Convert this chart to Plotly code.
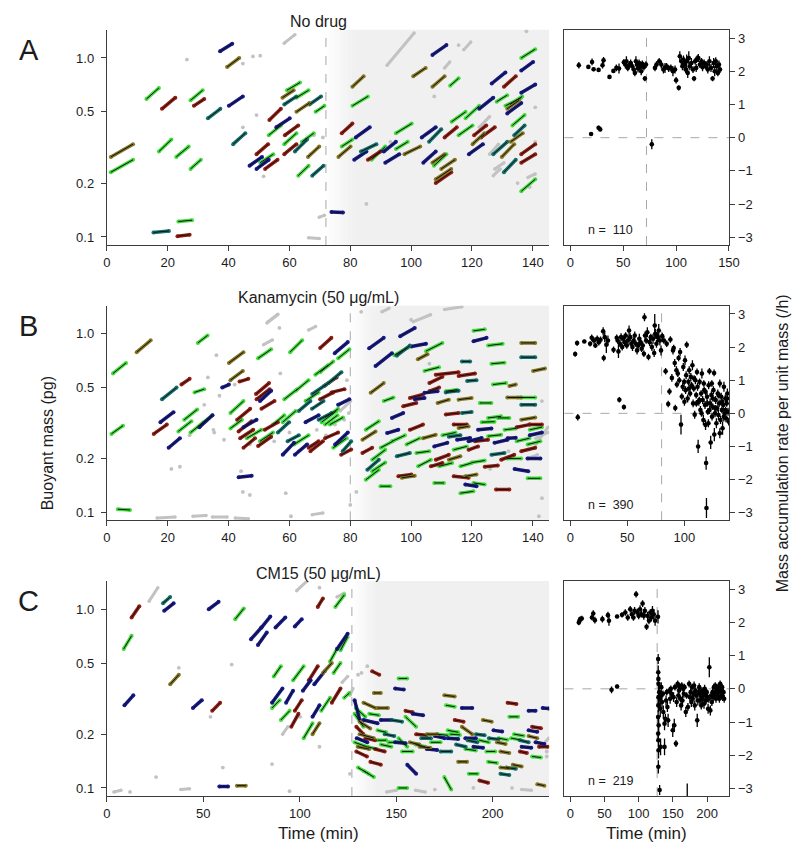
import plotly.graph_objects as go

# ---------------- DATA ----------------
A_DRUG_T = 72
B_DRUG_T = 80
C_DRUG_T = 127
A_N, B_N, C_N = 110, 390, 219

# single-cell tracks: (t_start, t_end, mass_start, mass_end, lineage group)
A_TRACKS = [
    (1.3, 8.6, 0.28, 0.33, 'o'), (1.3, 8.6, 0.23, 0.27, 'g'), (13.0, 17.1, 0.59, 0.68, 'g'),
    (18.1, 22.5, 0.52, 0.60, 'r'), (17.1, 21.2, 0.30, 0.35, 'g'), (22.8, 26.9, 0.28, 0.32, 'g'),
    (27.5, 30.9, 0.24, 0.27, 'g'), (27.5, 31.5, 0.58, 0.66, 'g'), (28.6, 32.0, 0.54, 0.59, 'r'),
    (15.3, 20.4, 0.106, 0.108, 't'), (23.5, 28.0, 0.122, 0.124, 'g'), (23.2, 27.2, 0.101, 0.103, 'r'),
    (33.2, 37.3, 0.46, 0.52, 't'), (37.2, 41.2, 1.09, 1.20, 'b'), (39.5, 43.5, 0.89, 1.0, 'o'),
    (40.1, 44.7, 0.54, 0.61, 'b'), (41.5, 45.5, 0.33, 0.38, 't'), (46.9, 51.0, 0.25, 0.28, 'b'),
    (49.2, 53.2, 0.24, 0.27, 'b'), (49.2, 53.0, 0.29, 0.33, 'r'), (52.0, 56.1, 0.24, 0.27, 'r'),
    (50.4, 54.7, 0.26, 0.29, 'g'), (53.2, 57.2, 0.37, 0.42, 'g'), (53.4, 57.2, 0.45, 0.52, 'r'),
    (55.7, 60.1, 0.41, 0.46, 'b'), (57.7, 61.4, 0.60, 0.66, 'o'), (58.3, 62.3, 0.55, 0.61, 't'),
    (59.2, 63.5, 0.66, 0.73, 'g'), (58.3, 62.3, 0.33, 0.38, 'g'), (58.5, 62.9, 0.37, 0.42, 'r'),
    (58.3, 62.3, 0.29, 0.33, 'r'), (61.8, 65.8, 0.30, 0.35, 't'), (62.9, 66.3, 0.22, 0.25, 'g'),
    (62.3, 66.6, 0.50, 0.56, 'o'), (62.3, 66.3, 0.60, 0.66, 'g'), (66.1, 69.8, 0.28, 0.32, 'o'),
    (66.6, 70.4, 0.55, 0.61, 't'), (67.5, 71.2, 0.22, 0.25, 't'), (68.6, 71.5, 0.50, 0.54, 'g'),
    (64.1, 68.0, 0.34, 0.38, 'g'), (77.2, 80.7, 0.38, 0.43, 'r'), (76.1, 80.1, 0.28, 0.32, 'o'),
    (77.2, 80.7, 0.32, 0.35, 'g'), (80.7, 84.4, 0.69, 0.79, 'o'), (80.7, 85.8, 0.54, 0.61, 'g'),
    (73.8, 77.6, 0.138, 0.137, 'b'), (81.8, 86.4, 0.36, 0.41, 'b'), (81.3, 85.3, 0.27, 0.30, 'b'),
    (83.5, 88.6, 0.30, 0.33, 't'), (85.8, 89.9, 0.27, 0.30, 'r'), (87.0, 91.5, 0.27, 0.32, 'g'),
    (91.0, 95.0, 0.30, 0.34, 'b'), (91.5, 96.1, 0.26, 0.29, 'b'), (95.0, 100.2, 0.38, 0.43, 'g'),
    (95.0, 98.9, 0.31, 0.34, 'g'), (97.8, 103.0, 0.29, 0.32, 'o'), (100.7, 104.8, 0.79, 0.88, 'o'),
    (104.0, 108.1, 0.26, 0.30, 'b'), (103.5, 108.1, 0.36, 0.41, 'b'), (105.9, 109.9, 0.34, 0.40, 't'),
    (107.0, 111.6, 1.04, 1.18, 'b'), (107.0, 111.0, 0.69, 0.79, 'o'), (107.0, 111.0, 0.26, 0.29, 'o'),
    (107.5, 111.6, 0.25, 0.29, 'g'), (112.8, 115.6, 0.70, 0.77, 'g'), (111.0, 115.0, 0.36, 0.41, 'r'),
    (108.1, 113.2, 0.20, 0.23, 'r'), (108.1, 113.2, 0.21, 0.24, 'o'), (109.9, 114.4, 0.24, 0.27, 'o'),
    (113.3, 117.9, 0.44, 0.50, 'g'), (115.6, 120.2, 0.37, 0.42, 'g'), (117.9, 122.4, 0.46, 0.54, 'g'),
    (119.0, 123.6, 0.29, 0.33, 'b'), (122.4, 127.0, 0.52, 0.60, 'b'), (120.2, 124.1, 0.33, 0.38, 'o'),
    (120.7, 124.7, 0.37, 0.42, 'r'), (123.0, 127.5, 0.36, 0.41, 'r'), (126.5, 131.0, 0.72, 0.83, 'b'),
    (128.1, 131.6, 0.57, 0.62, 'g'), (130.5, 134.4, 0.69, 0.79, 'r'), (130.5, 134.4, 0.23, 0.27, 't'),
    (129.8, 133.9, 0.28, 0.33, 'o'), (127.0, 131.6, 0.29, 0.34, 't'), (131.0, 136.2, 0.54, 0.60, 'g'),
    (131.6, 135.5, 0.52, 0.58, 'o'), (132.5, 136.5, 0.55, 0.61, 'g'), (131.6, 136.2, 0.49, 0.56, 'b'),
    (133.9, 137.3, 0.37, 0.42, 't'), (136.2, 140.1, 0.85, 0.95, 'b'), (136.2, 140.8, 0.64, 0.71, 'b'),
    (136.2, 140.8, 0.26, 0.29, 'r'), (136.2, 140.8, 0.29, 0.33, 'r'), (136.2, 140.8, 1.0, 1.12, 'g'),
    (136.2, 140.8, 0.18, 0.21, 'g'), (133.3, 137.3, 0.42, 0.48, 'g'), (132.7, 136.7, 0.34, 0.38, 'o'),
]
A_GREY = [
    (58.3, 61.8, 1.21, 1.35), (92.1, 101.0, 0.91, 1.38), (111.0, 112.7, 0.88, 0.95), (117.3, 119.6, 1.11, 1.23),
    (66.3, 69.8, 0.099, 0.098), (69.8, 71.5, 0.129, 0.132), (127.0, 129.3, 0.22, 0.24), (125.8, 128.7, 0.29, 0.33),
    (138.4, 140.8, 0.215, 0.225), (127.5, 130.5, 0.24, 0.26), (122.4, 125.8, 0.41, 0.47),
]
A_GREY_DOTS = [
    (26.3, 0.98), (48.0, 1.02), (50.4, 1.03), (44.7, 0.93), (49.2, 0.48), (51.5, 0.218), (66.9, 0.29),
    (68.0, 0.37), (71.0, 0.36), (85.3, 0.153), (107.6, 0.61), (137.9, 1.41), (140.8, 0.53), (140.8, 0.34),
    (44.7, 0.41), (115.6, 1.18), (93.2, 0.34), (135.0, 0.20), (139.0, 0.19),
]
# growth rate per unit mass: (time, rate, error)
A_RATES = [
    (8, 2.18, 0.1), (17, 2.13, 0.06), (20.5, 2.28, 0.1), (22, 2.06, 0.06), (26.7, 2.04, 0.06), (30.4, 2.18, 0.1),
    (31.4, 2.33, 0.1), (37, 1.83, 0.06), (40.7, 2.01, 0.06), (43.5, 2.1, 0.1), (46, 2.08, 0.15),
    (19.6, 0.11, 0.06), (26.7, 0.30, 0.06), (28.2, 0.25, 0.06),
    (50.6, 2.27, 0.1), (52, 2.2, 0.12), (53, 2.3, 0.15), (54.3, 2.1, 0.1), (55.5, 2.18, 0.1), (57, 2.25, 0.1),
    (58.5, 2.15, 0.12), (60, 2.05, 0.1), (61, 1.95, 0.1), (62, 2.3, 0.15), (63, 2.2, 0.1), (64, 2.08, 0.12),
    (65, 2.25, 0.1), (66, 2.15, 0.1), (67, 2.0, 0.12), (68, 2.22, 0.1), (69.5, 2.12, 0.1), (70.5, 1.78, 0.08),
    (71.5, 2.2, 0.1), (77, -0.2, 0.15),
    (80, 2.1, 0.1), (81.5, 2.2, 0.1), (84, 2.3, 0.1), (86, 2.2, 0.12), (88, 2.05, 0.12), (89.5, 2.1, 0.15),
    (91, 2.15, 0.1), (93, 2.08, 0.1), (95, 2.1, 0.1), (97, 2.0, 0.15), (99, 2.05, 0.12), (100, 1.73, 0.1),
    (102.5, 1.5, 0.08), (103.5, 2.45, 0.15), (105, 2.3, 0.15), (106, 2.15, 0.12), (107, 2.35, 0.12),
    (108, 2.2, 0.15), (109, 2.05, 0.1), (110, 2.3, 0.2), (111, 1.95, 0.15), (112, 2.4, 0.2), (113, 2.15, 0.12),
    (114.5, 2.25, 0.15), (116, 2.05, 0.1), (117, 1.78, 0.08), (118, 2.3, 0.1), (119, 2.1, 0.12), (120, 2.38, 0.1),
    (121, 2.4, 0.12), (122.5, 2.2, 0.1), (124, 2.3, 0.1), (125, 2.12, 0.12), (126.5, 2.25, 0.1), (128, 2.15, 0.1),
    (129, 2.2, 0.1), (130, 2.05, 0.12), (131.5, 2.3, 0.15), (133, 2.1, 0.12), (134.5, 1.78, 0.08),
    (135.5, 2.25, 0.15), (136.5, 2.0, 0.15), (137.5, 2.3, 0.12), (138.5, 2.15, 0.15), (139.5, 1.95, 0.1),
    (140.5, 2.2, 0.12), (141.5, 2.05, 0.1),
]

B_TRACKS = [
    (2.0, 6.3, 0.60, 0.687, 'g'), (1.5, 5.3, 0.275, 0.306, 'g'), (3.6, 7.6, 0.104, 0.103, 'g'),
    (9.8, 14.4, 0.79, 0.92, 'o'), (29.9, 33.1, 0.89, 0.98, 'g'), (18.1, 22.9, 0.43, 0.50, 't'),
    (24.5, 27.2, 0.52, 0.56, 'r'), (28.8, 32.0, 0.47, 0.49, 'g'), (17.6, 21.9, 0.32, 0.364, 'b'),
    (15.4, 19.7, 0.275, 0.31, 'r'), (20.3, 24.0, 0.23, 0.26, 'b'), (25.4, 29.7, 0.33, 0.377, 'g'),
    (23.5, 27.8, 0.284, 0.324, 'g'), (27.5, 31.8, 0.28, 0.32, 'g'), (29.9, 34.7, 0.30, 0.35, 'g'),
    (30.4, 34.7, 0.30, 0.35, 'b'), (37.9, 40.1, 0.50, 0.52, 'b'), (40.1, 44.9, 0.687, 0.79, 'o'),
    (40.6, 44.7, 0.55, 0.62, 'o'), (43.6, 46.5, 0.54, 0.56, 'r'), (40.6, 44.9, 0.36, 0.42, 'g'),
    (40.6, 44.4, 0.295, 0.33, 'g'), (43.3, 47.6, 0.157, 0.16, 'b'), (42.8, 47.1, 0.33, 0.38, 'r'),
    (43.3, 47.6, 0.284, 0.324, 'r'), (43.8, 48.1, 0.26, 0.29, 'r'), (44.9, 49.2, 0.30, 0.33, 'b'),
    (46.0, 50.8, 0.26, 0.29, 'g'), (44.9, 48.7, 0.23, 0.26, 'r'), (49.2, 53.5, 0.43, 0.49, 'r'),
    (49.0, 53.3, 0.46, 0.53, 'r'), (50.3, 54.0, 0.42, 0.48, 'b'), (50.8, 55.1, 0.38, 0.42, 'r'),
    (49.7, 54.0, 0.73, 0.82, 'g'), (49.7, 54.0, 0.235, 0.265, 'r'), (50.3, 54.6, 0.25, 0.28, 'g'),
    (51.9, 56.2, 0.29, 0.32, 'r'), (56.2, 59.9, 0.28, 0.32, 't'), (54.6, 58.3, 0.31, 0.35, 'g'),
    (57.8, 62.1, 0.32, 0.37, 'g'), (57.8, 61.5, 0.21, 0.245, 'b'), (59.4, 63.1, 0.25, 0.27, 't'),
    (60.2, 64.2, 0.79, 0.92, 'g'), (58.3, 62.6, 0.43, 0.49, 'g'), (61.5, 66.3, 0.24, 0.27, 'g'),
    (62.1, 66.3, 0.48, 0.55, 'g'), (63.1, 66.9, 0.37, 0.42, 't'), (70.1, 73.8, 0.834, 0.95, 'r'),
    (74.9, 79.2, 0.78, 0.90, 'b'), (76.0, 79.7, 0.73, 0.82, 'g'), (68.5, 72.8, 0.59, 0.67, 'g'),
    (70.1, 74.4, 0.61, 0.70, 'g'), (72.8, 77.1, 0.53, 0.61, 't'), (70.1, 74.4, 0.43, 0.47, 'r'),
    (73.8, 78.1, 0.47, 0.49, 'r'), (76.0, 79.7, 0.40, 0.43, 'b'), (65.3, 69.6, 0.42, 0.47, 'g'),
    (67.4, 71.2, 0.38, 0.42, 't'), (65.3, 69.6, 0.32, 0.35, 'b'), (71.7, 76.0, 0.34, 0.38, 'g'),
    (70.6, 75.5, 0.32, 0.37, 'g'), (69.6, 73.9, 0.33, 0.36, 't'), (66.3, 69.6, 0.23, 0.25, 'r'),
    (71.7, 76.0, 0.26, 0.28, 'r'), (75.0, 79.2, 0.24, 0.28, 'b'), (74.4, 78.7, 0.23, 0.26, 'g'),
    (77.0, 80.3, 0.21, 0.225, 'r'), (77.5, 80.3, 0.22, 0.25, 't'), (61.8, 65.8, 0.21, 0.24, 'b'),
    (66.9, 71.0, 0.22, 0.25, 'r'), (67.5, 72.1, 0.46, 0.52, 't'), (71.4, 75.5, 0.51, 0.57, 'r'),
    (71.7, 75.8, 0.31, 0.35, 'g'), (73.3, 77.6, 0.31, 0.34, 'g'),
    (86.2, 91.0, 0.83, 0.95, 'b'), (96.4, 101.2, 0.97, 1.08, 'b'), (88.3, 93.7, 0.66, 0.78, 'b'),
    (95.3, 99.6, 0.755, 0.86, 't'), (94.5, 99.0, 0.76, 0.84, 'g'), (100.1, 104.9, 0.85, 0.88, 'b'),
    (102.2, 105.4, 0.72, 0.77, 'o'), (104.9, 110.3, 0.80, 0.89, 'g'), (104.4, 109.2, 0.62, 0.65, 'g'),
    (86.7, 91.0, 0.467, 0.53, 'o'), (120.5, 124.2, 1.04, 1.06, 'g'), (120.5, 124.8, 0.91, 0.95, 'b'),
    (125.3, 130.1, 0.86, 0.88, 'g'), (116.7, 119.4, 0.70, 0.70, 't'), (126.4, 130.7, 0.68, 0.69, 'g'),
    (118.4, 121.5, 0.545, 0.55, 't'), (126.9, 131.2, 0.52, 0.53, 'g'), (132.3, 134.4, 0.51, 0.52, 'o'),
    (106.0, 110.3, 0.53, 0.575, 'r'), (108.1, 115.6, 0.59, 0.61, 'r'), (115.6, 121.0, 0.58, 0.60, 'r'),
    (111.4, 115.6, 0.47, 0.48, 't'), (136.2, 140.8, 0.89, 0.89, 'o'), (136.2, 140.8, 0.74, 0.74, 't'),
    (140.1, 144.0, 0.62, 0.64, 'o'), (136.2, 140.8, 0.40, 0.40, 't'), (131.6, 136.2, 0.44, 0.44, 'o'),
    (135.0, 140.8, 0.44, 0.44, 'g'),
    (85.1, 89.4, 0.29, 0.324, 'g'), (84.0, 88.3, 0.255, 0.284, 'o'), (84.0, 87.2, 0.215, 0.23, 'r'),
    (85.1, 89.4, 0.152, 0.173, 'g'), (85.6, 89.4, 0.173, 0.197, 't'), (89.9, 93.2, 0.14, 0.14, 'g'),
    (87.2, 91.5, 0.197, 0.224, 'g'), (91.0, 94.2, 0.42, 0.44, 'g'), (93.7, 97.4, 0.338, 0.36, 'b'),
    (92.1, 95.8, 0.278, 0.29, 'b'), (97.4, 101.7, 0.393, 0.41, 'r'), (99.6, 103.9, 0.437, 0.457, 'r'),
    (101.2, 104.4, 0.43, 0.437, 'b'), (106.0, 109.2, 0.477, 0.50, 'r'), (104.4, 108.7, 0.467, 0.477, 'b'),
    (111.4, 115.1, 0.477, 0.487, 'g'), (108.7, 112.4, 0.41, 0.428, 'o'), (111.4, 115.6, 0.353, 0.36, 'r'),
    (115.6, 119.9, 0.428, 0.437, 'o'), (116.7, 119.9, 0.36, 0.365, 't'), (122.6, 126.4, 0.41, 0.41, 'g'),
    (125.3, 129.6, 0.338, 0.345, 'g'), (128.5, 132.3, 0.338, 0.338, 'g'), (114.0, 118.3, 0.31, 0.31, 'r'),
    (115.6, 118.9, 0.297, 0.303, 'o'), (115.1, 119.4, 0.255, 0.261, 'b'), (118.9, 123.2, 0.25, 0.261, 'b'),
    (118.9, 122.0, 0.224, 0.234, 'r'), (121.0, 125.3, 0.25, 0.255, 'r'), (125.3, 129.6, 0.267, 0.272, 'g'),
    (127.4, 131.7, 0.245, 0.255, 'b'), (126.4, 130.7, 0.21, 0.215, 't'), (129.6, 133.9, 0.197, 0.21, 'r'),
    (106.5, 110.3, 0.181, 0.189, 'r'), (108.1, 112.4, 0.197, 0.21, 'r'), (109.2, 113.5, 0.181, 0.189, 'g'),
    (112.4, 116.2, 0.197, 0.206, 'o'), (114.0, 118.3, 0.224, 0.234, 'g'), (114.0, 118.9, 0.159, 0.156, 'r'),
    (117.8, 121.5, 0.159, 0.163, 'o'), (116.2, 119.9, 0.181, 0.189, 'g'), (117.8, 121.5, 0.143, 0.14, 'b'),
    (116.2, 120.5, 0.128, 0.131, 'g'), (120.5, 124.2, 0.146, 0.143, 'g'), (127.9, 132.3, 0.134, 0.134, 'r'),
    (107.6, 110.8, 0.146, 0.146, 'g'), (95.8, 100.1, 0.159, 0.163, 'r'), (96.9, 101.2, 0.156, 0.16, 'o'),
    (95.3, 99.6, 0.206, 0.215, 't'), (101.7, 106.0, 0.215, 0.22, 'g'), (107.6, 111.9, 0.234, 0.245, 'b'),
    (102.3, 106.5, 0.181, 0.197, 'g'), (134.7, 138.9, 0.25, 0.26, 'g'), (134.7, 138.9, 0.30, 0.31, 'r'),
    (136.2, 140.8, 0.33, 0.34, 'o'), (136.2, 140.8, 0.22, 0.23, 'r'), (138.3, 142.5, 0.24, 0.25, 'g'),
    (139.0, 143.0, 0.29, 0.30, 'g'), (139.0, 143.0, 0.27, 0.28, 'b'), (138.3, 142.5, 0.20, 0.20, 'b'),
    (138.3, 142.5, 0.155, 0.155, 'g'), (139.0, 143.0, 0.31, 0.31, 'r'), (134.0, 138.5, 0.175, 0.17, 'b'),
    (131.6, 136.2, 0.20, 0.20, 'g'), (122.0, 126.4, 0.29, 0.295, 'b'), (123.2, 127.4, 0.32, 0.322, 'g'),
    (119.9, 124.2, 0.19, 0.195, 'g'), (124.2, 128.5, 0.18, 0.183, 'r'), (130.7, 134.4, 0.29, 0.295, 'g'),
    (131.7, 134.4, 0.26, 0.262, 'b'), (110.3, 114.6, 0.27, 0.28, 'g'), (112.4, 116.2, 0.265, 0.27, 't'),
    (103.9, 108.1, 0.26, 0.272, 'o'), (98.5, 102.8, 0.24, 0.26, 'g'), (99.6, 103.9, 0.29, 0.31, 'r'),
    (93.7, 98.0, 0.25, 0.27, 'g'), (90.0, 94.0, 0.23, 0.25, 'g'), (87.2, 91.5, 0.17, 0.19, 'g'),
]
B_GREY = [
    (52.6, 56.1, 1.15, 1.28), (51.5, 54.4, 0.87, 0.925), (66.3, 68.6, 1.05, 1.10), (90.4, 92.7, 1.33, 1.39),
    (100.7, 106.4, 1.17, 1.28), (111.0, 116.7, 1.37, 1.42), (76.7, 80.1, 0.37, 0.42), (16.5, 22.4, 0.093, 0.094),
    (28.3, 32.6, 0.095, 0.096), (34.7, 39.5, 0.094, 0.094), (42.2, 46.5, 0.093, 0.092), (67.5, 71.0, 0.097, 0.099),
    (141.0, 145.0, 0.24, 0.30), (141.0, 145.0, 0.26, 0.28), (138.0, 141.5, 0.20, 0.21), (53.0, 56.2, 1.17, 1.29),
]
B_GREY_DOTS = [
    (33.2, 0.57), (21.2, 0.175), (44.1, 0.17), (44.7, 0.13), (78.9, 0.55), (83.6, 1.33), (37.0, 0.45),
    (42.0, 0.52), (47.0, 0.24), (55.0, 0.25), (60.0, 0.28), (63.0, 0.22), (66.0, 0.24), (69.0, 0.29),
    (72.0, 0.27), (75.0, 0.31), (78.0, 0.33), (79.0, 0.26), (79.5, 0.36), (57.0, 0.60), (32.0, 0.40),
    (24.0, 0.18), (35.0, 0.29), (100.0, 1.20), (106.0, 0.68), (132.0, 0.22), (143.0, 0.42), (143.0, 0.12),
    (142.0, 0.095), (126.0, 0.175), (82.0, 0.13), (80.0, 0.11), (36.0, 0.76), (27.2, 0.27), (35.3, 0.28),
    (38.5, 0.255), (47.0, 0.125), (58.8, 0.128), (60.5, 0.095), (56.7, 1.08),
]
B_RATES = [
    (4.3, 1.79, 0.08), (6, 2.12, 0.08), (6.6, -0.12, 0.1), (12.3, 2.17, 0.05), (17.4, 2.1, 0.08), (18.8, 2.28, 0.1),
    (20.8, 2.2, 0.1), (22, 2.05, 0.08), (23.6, 2.25, 0.1), (25, 2.15, 0.1), (26.5, 2.22, 0.1), (28.8, 2.48, 0.12),
    (29.3, 1.67, 0.1), (30.2, 2.3, 0.15), (31.6, 2.07, 0.25), (33, 2.2, 0.15), (37.9, 1.92, 0.1), (40.7, 2.28, 0.1),
    (42.2, 1.87, 0.2), (43, 0.41, 0.08), (47, 0.19, 0.08), (41.5, 2.2, 0.1), (43.5, 2.1, 0.1), (44.5, 2.3, 0.12),
    (45.5, 2.0, 0.1), (46.5, 2.25, 0.1), (47.5, 2.15, 0.12), (48.5, 2.35, 0.1), (49.5, 2.05, 0.1), (50.5, 2.2, 0.15),
    (51.5, 2.5, 0.15), (52.5, 2.3, 0.12), (53.5, 2.1, 0.1), (54.5, 2.0, 0.12), (55.5, 2.2, 0.1), (56.5, 2.35, 0.12),
    (57.5, 2.1, 0.1), (58.5, 1.9, 0.12), (59.5, 2.05, 0.1), (60.5, 2.25, 0.15), (61.5, 2.15, 0.1), (62.5, 1.95, 0.1),
    (63.5, 2.05, 0.12), (64.5, 1.8, 0.1), (65, 2.9, 0.12), (65.5, 2.35, 0.12), (66.5, 2.2, 0.1), (67.5, 2.45, 0.15),
    (68.5, 1.7, 0.1), (69.5, 2.15, 0.12), (70.5, 2.3, 0.1), (71.5, 2.0, 0.12), (72.5, 2.25, 0.15), (73.5, 1.82, 0.12),
    (74, 2.65, 0.35), (74.5, 2.4, 0.15), (75.5, 2.1, 0.12), (76.5, 2.3, 0.15), (77.5, 2.5, 0.2), (78.5, 2.2, 0.15),
    (79.5, 1.9, 0.15),
    (80.6, 2.33, 0.1), (82, 2.2, 0.1), (83.5, 1.27, 0.1), (84.5, 2.1, 0.1), (85.8, 0.28, 0.1), (86.9, 0.66, 0.1),
    (87.7, 2.23, 0.1), (89, 1.07, 0.12), (90, 1.9, 0.12), (90.6, 1.97, 0.1), (91.5, 1.52, 0.12), (92, 0.16, 0.1),
    (93, 1.3, 0.12), (93.4, 0.87, 0.1), (94.2, 1.2, 0.1), (94.9, 1.67, 0.1), (95.5, 1.0, 0.1), (96.2, 1.85, 0.12),
    (97, -0.34, 0.3), (97.7, 0.51, 0.1), (98.5, 0.8, 0.12), (99, 1.4, 0.12), (99.8, 0.95, 0.1), (100.5, 1.6, 0.15),
    (101, 0.7, 0.12), (101.5, 1.15, 0.12), (102, 2.07, 0.1), (102.8, 0.45, 0.12), (103.5, 0.95, 0.1),
    (104.2, 1.3, 0.12), (105, 0.6, 0.1), (105.6, 1.1, 0.12), (106.3, 0.85, 0.1), (107, 1.45, 0.15),
    (107.6, 0.3, 0.12), (108.2, 0.75, 0.1), (109, -0.04, 0.12), (109.6, 1.0, 0.12), (110.3, 0.55, 0.1),
    (111, 1.25, 0.1), (111.5, 0.8, 0.12), (112, -1.0, 0.2), (112.6, 0.35, 0.12), (113.3, 0.95, 0.1),
    (114, 0.1, 0.12), (114.6, 0.6, 0.1), (115.3, 1.2, 0.15), (116, 0.4, 0.12), (116.6, -0.2, 0.15),
    (117.3, 0.7, 0.1), (118, 0.25, 0.12), (118.5, -0.35, 0.15), (119, -1.5, 0.2), (119.3, -2.86, 0.3),
    (119.8, 0.5, 0.12), (120.5, 0.05, 0.1), (121.2, 0.85, 0.12), (121.9, 1.27, 0.1), (122.5, 0.3, 0.15),
    (123, -0.88, 0.2), (123.6, 0.55, 0.12), (124.2, -0.1, 0.12), (124.8, 0.2, 0.1), (125.4, 0.7, 0.12),
    (126, 1.22, 0.1), (126.2, -0.64, 0.2), (126.8, 0.0, 0.12), (127.4, 0.4, 0.12), (128, -0.3, 0.15),
    (128.6, 0.15, 0.1), (129.2, 0.6, 0.12), (129.8, -0.05, 0.15), (130.4, 0.3, 0.12), (131, 0.9, 0.12),
    (131.6, -0.2, 0.12), (132.2, 0.5, 0.12), (132.8, 0.1, 0.1), (133.4, -0.45, 0.2), (134, 0.25, 0.12),
    (134.6, 0.8, 0.15), (135.2, 0.0, 0.12), (135.8, 0.45, 0.12), (136.4, -0.15, 0.12), (137, 0.3, 0.1),
    (137.6, 0.6, 0.15), (138.2, 0.05, 0.12), (138.8, -0.25, 0.12),
    (110.5, 0.3, 0.1), (115, 0.0, 0.1), (117, 0.9, 0.1), (120, 0.3, 0.1), (122, 0.1, 0.12), (125, 0.45, 0.1),
    (127, 0.15, 0.1), (130, 0.55, 0.1), (133, 0.35, 0.1), (136, 0.1, 0.1), (121, -0.3, 0.12), (124, 0.9, 0.1),
    (118.5, 0.65, 0.1), (113, 0.4, 0.1), (108.5, 1.05, 0.1), (104, 0.75, 0.12), (100, 0.35, 0.12),
    (131, -0.6, 0.15), (134.5, -0.1, 0.15), (137.5, 0.45, 0.15),
]

C_TRACKS = [
    (12.8, 16.8, 0.90, 1.04, 'r'), (8.7, 12.8, 0.60, 0.71, 'g'), (9.1, 13.7, 0.29, 0.33, 'b'),
    (29.1, 32.8, 1.08, 1.17, 't'), (29.7, 34.6, 0.98, 1.08, 'b'), (32.8, 37.3, 0.38, 0.43, 'o'),
    (44.6, 49.2, 0.28, 0.31, 'b'), (52.8, 57.9, 1.00, 1.10, 'b'), (54.6, 58.7, 0.27, 0.30, 'r'),
    (66.5, 71.0, 0.88, 1.01, 'g'), (74.7, 80.1, 0.68, 0.79, 'b'), (78.3, 82.9, 0.63, 0.74, 'b'),
    (80.1, 84.7, 0.79, 0.91, 'b'), (87.4, 92.5, 0.79, 0.90, 'b'), (97.4, 101.0, 0.80, 0.88, 'b'),
    (58.3, 62.8, 0.102, 0.102, 'b'), (67.4, 72.0, 0.103, 0.103, 'o'), (86.5, 90.2, 0.42, 0.48, 'g'),
    (85.6, 91.0, 0.30, 0.36, 'b'), (85.6, 89.6, 0.28, 0.31, 'g'), (90.2, 94.7, 0.24, 0.27, 'g'),
    (92.9, 96.5, 0.30, 0.35, 'b'), (95.6, 99.3, 0.22, 0.26, 'r'), (97.4, 101.0, 0.27, 0.31, 'r'),
    (96.5, 102.0, 0.40, 0.48, 'g'), (101.6, 105.6, 0.35, 0.40, 'b'), (104.7, 109.3, 0.40, 0.48, 'r'),
    (107.5, 112.9, 0.38, 0.45, 'b'), (106.6, 110.2, 0.25, 0.29, 'b'), (102.0, 106.6, 0.19, 0.23, 'g'),
    (106.6, 110.2, 0.20, 0.23, 'o'), (111.1, 115.7, 0.27, 0.32, 'g'), (109.3, 112.0, 1.03, 1.15, 'r'),
    (116.6, 121.1, 0.30, 0.36, 'r'), (112.0, 116.6, 0.44, 0.50, 'o'), (115.7, 119.3, 0.51, 0.60, 'g'),
    (117.5, 121.1, 0.44, 0.50, 'g'), (118.4, 123.0, 1.03, 1.20, 'g'), (119.3, 124.8, 0.60, 0.73, 'b'),
    (121.1, 124.8, 0.59, 0.70, 'g'), (123.0, 125.7, 0.32, 0.34, 'g'),
    (128.4, 131.1, 0.31, 0.24, 'b'), (128.4, 133.0, 0.26, 0.22, 'g'), (129.3, 133.0, 0.22, 0.20, 'r'),
    (128.4, 134.8, 0.18, 0.17, 'g'), (129.3, 134.8, 0.16, 0.15, 'r'), (130.2, 135.7, 0.13, 0.12, 'g'),
    (133.0, 138.4, 0.125, 0.115, 'g'), (133.0, 139.3, 0.30, 0.28, 'o'), (133.0, 140.3, 0.24, 0.23, 'b'),
    (131.0, 138.4, 0.20, 0.19, 'o'), (136.6, 142.0, 0.14, 0.135, 'r'), (137.5, 141.2, 0.45, 0.43, 'r'),
    (138.4, 142.0, 0.34, 0.34, 'o'), (140.3, 145.7, 0.28, 0.28, 'o'), (142.0, 147.5, 0.24, 0.24, 'b'),
    (140.3, 144.8, 0.21, 0.205, 'g'), (140.3, 144.8, 0.185, 0.185, 'g'), (142.0, 147.5, 0.175, 0.17, 'g'),
    (151.2, 155.7, 0.41, 0.41, 'g'), (149.4, 153.9, 0.36, 0.355, 'b'), (147.5, 153.0, 0.24, 0.235, 't'),
    (149.4, 154.8, 0.18, 0.178, 'b'), (151.2, 155.7, 0.19, 0.17, 'g'), (153.0, 158.5, 0.16, 0.16, 'g'),
    (154.8, 158.5, 0.27, 0.265, 'r'), (154.8, 160.3, 0.25, 0.22, 'g'), (158.5, 163.9, 0.26, 0.255, 'b'),
    (155.7, 160.3, 0.135, 0.12, 'b'), (151.2, 155.7, 0.10, 0.10, 'g'), (160.3, 165.8, 0.20, 0.197, 'r'),
    (162.1, 167.6, 0.17, 0.168, 'o'), (165.8, 171.2, 0.165, 0.163, 'b'), (165.8, 171.2, 0.20, 0.20, 'o'),
    (171.2, 176.7, 0.20, 0.197, 'g'), (173.0, 178.5, 0.16, 0.16, 't'), (174.9, 178.5, 0.115, 0.098, 'g'),
    (174.9, 180.3, 0.33, 0.325, 'o'), (175.8, 180.3, 0.29, 0.285, 'g'), (176.7, 182.1, 0.21, 0.205, 'g'),
    (176.7, 182.1, 0.19, 0.188, 'b'), (180.3, 184.9, 0.24, 0.235, 'r'), (182.1, 186.7, 0.14, 0.14, 'o'),
    (184.0, 189.4, 0.28, 0.28, 'b'), (184.0, 189.4, 0.22, 0.20, 'o'), (185.8, 191.3, 0.19, 0.19, 'b'),
    (185.8, 191.3, 0.165, 0.162, 'g'), (187.6, 192.2, 0.12, 0.12, 'g'), (191.3, 195.8, 0.20, 0.197, 't'),
    (193.1, 197.6, 0.11, 0.107, 'r'), (194.9, 199.5, 0.24, 0.235, 'o'), (196.7, 201.3, 0.16, 0.16, 'g'),
    (197.6, 202.2, 0.14, 0.138, 'g'), (200.4, 204.9, 0.21, 0.207, 'b'), (202.2, 206.7, 0.18, 0.176, 'o'),
    (203.0, 207.6, 0.19, 0.186, 'g'), (204.0, 208.6, 0.16, 0.157, 'o'), (204.0, 208.6, 0.13, 0.129, 'o'),
    (204.0, 208.6, 0.12, 0.118, 't'), (207.7, 212.3, 0.30, 0.295, 'r'), (208.6, 213.2, 0.25, 0.25, 'g'),
    (209.5, 214.1, 0.19, 0.186, 'g'), (214.1, 217.7, 0.16, 0.157, 'r'), (214.1, 218.6, 0.185, 0.18, 't'),
    (218.6, 222.2, 0.27, 0.27, 'b'), (218.6, 223.1, 0.21, 0.206, 'b'), (220.4, 225.0, 0.22, 0.216, 'r'),
    (218.6, 223.1, 0.195, 0.19, 'o'), (220.4, 225.0, 0.15, 0.148, 'g'), (222.2, 226.8, 0.18, 0.176, 'b'),
    (225.9, 229.0, 0.28, 0.278, 'b'), (224.0, 228.6, 0.17, 0.17, 'r'), (223.1, 226.8, 0.105, 0.103, 'o'),
    (187.0, 192.0, 0.185, 0.18, 't'), (210.4, 215.0, 0.135, 0.132, 'o'), (207.0, 212.0, 0.13, 0.128, 't'),
    (129.0, 134.0, 0.28, 0.25, 'g'), (129.5, 135.0, 0.19, 0.18, 'b'), (130.0, 136.0, 0.17, 0.165, 'o'),
    (131.0, 136.5, 0.235, 0.215, 'o'), (134.0, 139.0, 0.19, 0.185, 'r'), (135.0, 140.0, 0.17, 0.165, 'g'),
    (136.0, 141.0, 0.26, 0.255, 'g'), (139.0, 144.0, 0.165, 0.16, 'r'), (144.0, 149.0, 0.20, 0.195, 't'),
    (146.0, 151.0, 0.18, 0.18, 'g'), (157.0, 162.0, 0.18, 0.175, 'o'), (160.0, 165.0, 0.175, 0.17, 'g'),
    (163.0, 168.0, 0.19, 0.19, 't'), (168.0, 173.0, 0.18, 0.18, 'g'), (170.0, 175.0, 0.195, 0.19, 'b'),
    (178.0, 183.0, 0.20, 0.198, 'g'), (181.0, 186.0, 0.175, 0.17, 't'), (190.0, 195.0, 0.17, 0.168, 'b'),
    (193.0, 198.0, 0.185, 0.18, 'g'), (198.0, 203.0, 0.19, 0.187, 't'), (211.0, 216.0, 0.20, 0.196, 'g'),
    (215.0, 220.0, 0.17, 0.168, 'b'),
]
C_GREY = [
    (21.9, 26.4, 1.11, 1.32), (98.4, 103.8, 1.27, 1.44), (119.3, 123.0, 1.17, 1.23), (91.1, 93.8, 0.20, 0.22),
    (3.6, 7.3, 0.095, 0.097), (38.3, 42.8, 0.098, 0.099), (122.0, 124.8, 0.39, 0.42), (145.0, 150.0, 0.095, 0.097),
    (160.0, 165.0, 0.097, 0.095), (215.0, 220.0, 0.098, 0.097), (225.0, 229.0, 0.17, 0.19), (126.0, 127.5, 0.33, 0.36),
]
C_GREY_DOTS = [
    (110.2, 1.32), (37.3, 0.47), (64.7, 0.49), (53.7, 0.25), (100.2, 0.25), (110.2, 0.17), (85.6, 0.136),
    (60.1, 0.13), (25.5, 0.115), (94.7, 0.096), (130.2, 0.43), (126.0, 0.12), (12.0, 0.095), (170.0, 0.098),
    (190.0, 0.10), (210.0, 0.10), (228.0, 0.15), (228.0, 0.16), (132.0, 0.44), (135.0, 0.48),
]
C_RATES = [
    (12.4, 2.0, 0.08), (13.5, 2.05, 0.1), (14.4, 2.1, 0.08), (16.7, 2.12, 0.08), (31.6, 2.15, 0.08), (33.5, 2.27, 0.1),
    (35.9, 2.07, 0.1), (46.9, 2.1, 0.1), (55, 2.22, 0.1), (56.5, 2.05, 0.15), (60.3, -0.03, 0.1), (68.4, 0.07, 0.06),
    (68.4, 2.18, 0.05), (75.6, 2.23, 0.08), (80.4, 2.3, 0.1), (84, 2.15, 0.1), (87.6, 2.4, 0.1), (90, 2.25, 0.12),
    (92.3, 2.15, 0.1), (94, 2.35, 0.12), (96.2, 2.85, 0.1), (98, 2.3, 0.12), (100, 2.2, 0.1), (102, 2.4, 0.12),
    (104, 2.25, 0.1), (105.7, 2.57, 0.1), (107.5, 2.2, 0.12), (109, 2.35, 0.12), (111.5, 1.87, 0.1), (113, 2.2, 0.12),
    (115, 2.05, 0.1), (117, 2.3, 0.1), (118.5, 2.15, 0.12), (120.1, 2.35, 0.15), (122, 2.25, 0.15), (124, 2.05, 0.15),
    (128.2, 2.17, 0.2),
    (128.5, 0.9, 0.15), (128.6, 0.5, 0.2), (128.8, 0.3, 0.2), (129, 0.15, 0.25), (128.9, -0.25, 0.2),
    (128.7, -0.5, 0.2), (128.4, -0.85, 0.2), (129.2, -1.1, 0.25), (128.5, -1.35, 0.2), (128.8, -1.55, 0.2),
    (129, -1.85, 0.25), (128.7, -2.35, 0.2), (130.6, -3.05, 0.15), (130, -0.1, 0.2), (131, -0.3, 0.2),
    (131.5, -0.6, 0.25), (132, -1.75, 0.25), (132.5, -0.2, 0.15), (133, 0.05, 0.15), (134, -0.4, 0.2),
    (135.4, -0.15, 0.1), (136, -0.7, 0.2), (137.8, -1.05, 0.2), (137.8, -1.75, 0.25), (139, -0.9, 0.15),
    (140, -0.35, 0.15), (141, -0.1, 0.1), (142, -0.55, 0.15), (143, -0.95, 0.2), (145, -0.05, 0.1),
    (146, -0.3, 0.15), (147, 0.0, 0.1), (148, -0.15, 0.12), (149.8, -1.25, 0.2), (151, -0.25, 0.15),
    (152, -1.1, 0.2), (153, 0.05, 0.1), (154.5, -1.65, 0.1), (155.5, -0.4, 0.15), (157, 0.15, 0.1),
    (158, -0.2, 0.12), (159, -0.05, 0.1), (160, 0.05, 0.12), (161, -0.3, 0.1), (162, -0.5, 0.15), (163, 0.1, 0.1),
    (164, -0.35, 0.15), (165, 0.0, 0.1), (166, -0.15, 0.12), (167, 0.05, 0.1), (168.9, -0.7, 0.15), (170, -0.2, 0.1),
    (171, -3.4, 0.55), (172, -0.55, 0.12), (173.7, 0.15, 0.1), (175, -0.25, 0.12), (176, -0.1, 0.1),
    (177, -0.4, 0.15), (178, 0.05, 0.1), (179, -0.3, 0.12), (180, -0.15, 0.1), (181, 0.1, 0.12), (182, -0.5, 0.15),
    (183, -0.05, 0.1), (184, -0.2, 0.12), (185.6, -0.95, 0.2), (186.5, -0.35, 0.15), (187.5, -0.1, 0.1),
    (188.5, 0.05, 0.12), (189.5, -0.35, 0.12), (190.5, -0.2, 0.1), (191.5, -0.5, 0.12), (192.5, -0.05, 0.1),
    (193.5, -0.3, 0.12), (194.5, -0.15, 0.1), (195.5, -0.45, 0.15), (196.5, 0.0, 0.12), (197.5, -0.2, 0.1),
    (198.5, -0.35, 0.12), (199.5, -0.1, 0.1), (200.5, -0.25, 0.12), (201.5, -0.6, 0.15), (202.5, -0.3, 0.12),
    (203.3, 0.65, 0.3), (204.8, -0.65, 0.15), (206, -0.2, 0.1), (207, -0.4, 0.12), (208, -0.1, 0.1),
    (209, -0.25, 0.12), (210, 0.05, 0.1), (211, -0.15, 0.12), (212, 0.1, 0.1), (213, -0.3, 0.12), (214, -0.05, 0.1),
    (215, -0.2, 0.12), (216, 0.05, 0.1), (217, -0.1, 0.1), (218, -0.3, 0.12), (219.1, 0.15, 0.1), (220, -0.05, 0.1),
    (221, -0.2, 0.12), (222, 0.05, 0.1), (223, -0.25, 0.12), (224, -0.1, 0.1), (225, -0.3, 0.12),
]

TITLES = ["No drug", "Kanamycin (50 \u03bcg/mL)", "CM15 (50 \u03bcg/mL)"]
LETTERS = ["A", "B", "C"]
MASS_TICKS = [0.1, 0.2, 0.5, 1.0]
MASS_TICK_TEXT = ["0.1", "0.2", "0.5", "1.0"]
RATE_TICKS = [-3, -2, -1, 0, 1, 2, 3]

# ---------------- STYLE / LAYOUT ----------------
W, H = 800, 843
FONT = "Liberation Sans, Arial, Helvetica, sans-serif"
INK = "#1c1c1c"
AXC = "#3c3c3c"
GROUP_COLORS = {'g': '#3fdc3a', 'r': '#921d12', 'b': '#16198c', 't': '#13706c', 'o': '#857722'}
GREY = "#c2c2c2"
SHADE = 240

LEFT_X = (96.7, 547.5)
RIGHT_X = (563.0, 731.0)
ROW_Y = [(21.7, 237.0), (297.7, 512.3), (573.0, 788.0)]
TITLE_X = 312


def xdom(a, b):
    return [a / W, b / W]


def ydom(top, bot):
    return [(H - bot) / H, (H - top) / H]


def seg_xy(tracks):
    xs, ys = [], []
    for tr in tracks:
        xs += [tr[0], tr[1], None]
        ys += [tr[2], tr[3], None]
    return xs, ys


panels = [
    dict(tracks=A_TRACKS, grey=A_GREY, gdots=A_GREY_DOTS, rates=A_RATES, drug=A_DRUG_T, n=A_N,
         xmax=145.4, xticks=[0, 20, 40, 60, 80, 100, 120, 140], rx=[-5.6, 150.3], rticks=[0, 50, 100, 150], ramp=9),
    dict(tracks=B_TRACKS, grey=B_GREY, gdots=B_GREY_DOTS, rates=B_RATES, drug=B_DRUG_T, n=B_N,
         xmax=145.4, xticks=[0, 20, 40, 60, 80, 100, 120, 140], rx=[-5.1, 139.3], rticks=[0, 50, 100], ramp=9),
    dict(tracks=C_TRACKS, grey=C_GREY, gdots=C_GREY_DOTS, rates=C_RATES, drug=C_DRUG_T, n=C_N,
         xmax=229.3, xticks=[0, 50, 100, 150, 200], rx=[-8.6, 232.5], rticks=[0, 50, 100, 150, 200], ramp=13),
]

fig = go.Figure()
shapes, annotations = [], []
layout_axes = {}

tickfont = dict(family=FONT, size=13, color=INK)

for i, p in enumerate(panels):
    li, ri = 2 * i + 1, 2 * i + 2
    lx, ly = f"x{li}" if li > 1 else "x", f"y{li}" if li > 1 else "y"
    rx, ry = f"x{ri}", f"y{ri}"
    top, bot = ROW_Y[i]

    # grey background tracks
    gx, gy = seg_xy(p["grey"])
    fig.add_trace(go.Scatter(x=gx, y=gy, mode="lines+markers", line=dict(color=GREY, width=3),
                             marker=dict(color=GREY, size=3.5),
                             xaxis=lx, yaxis=ly, hoverinfo="skip", showlegend=False))
    fig.add_trace(go.Scatter(x=[d[0] for d in p["gdots"]], y=[d[1] for d in p["gdots"]], mode="markers",
                             marker=dict(color=GREY, size=3.8), xaxis=lx, yaxis=ly,
                             hoverinfo="skip", showlegend=False))
    # colored tracks per lineage group
    for g, col in GROUP_COLORS.items():
        sx, sy = seg_xy([t for t in p["tracks"] if t[4] == g])
        fig.add_trace(go.Scatter(x=sx, y=sy, mode="lines+markers", line=dict(color=col, width=3.5),
                                 marker=dict(color=col, size=4),
                                 xaxis=lx, yaxis=ly, hoverinfo="skip", showlegend=False))
    # fitted lines
    fx, fy = seg_xy(p["tracks"])
    fig.add_trace(go.Scatter(x=fx, y=fy, mode="lines", line=dict(color="#111111", width=1),
                             xaxis=lx, yaxis=ly, hoverinfo="skip", showlegend=False))
    # growth-rate points
    fig.add_trace(go.Scatter(x=[r[0] for r in p["rates"]], y=[r[1] for r in p["rates"]], mode="markers",
                             marker=dict(color="black", size=4.6),
                             error_y=dict(type="data", array=[r[2] for r in p["rates"]], color="black",
                                          thickness=1.3, width=0),
                             xaxis=rx, yaxis=ry, hoverinfo="skip", showlegend=False))

    # gradient shading after drug addition
    steps = 14
    d, ramp = p["drug"], p["ramp"]
    for k in range(steps):
        lev = int(round(255 - (255 - SHADE) * (k + 1) / steps))
        shapes.append(dict(type="rect", xref=lx, yref=f"{ly} domain", x0=d + ramp * k / steps,
                           x1=d + ramp * (k + 1) / steps + 0.05, y0=0, y1=1,
                           fillcolor=f"rgb({lev},{lev},{lev})", line=dict(width=0), layer="below"))
    shapes.append(dict(type="rect", xref=lx, yref=f"{ly} domain", x0=d + ramp, x1=p["xmax"], y0=0, y1=1,
                       fillcolor=f"rgb({SHADE},{SHADE},{SHADE})", line=dict(width=0), layer="below"))
    shapes.append(dict(type="line", xref=lx, yref=f"{ly} domain", x0=d, x1=d, y0=0, y1=1,
                       line=dict(color="#a8a8a8", width=1, dash="dash"), layer="below"))
    shapes.append(dict(type="line", xref=rx, yref=f"{ry} domain", x0=d, x1=d, y0=0, y1=1,
                       line=dict(color="#a8a8a8", width=1, dash="dash"), layer="below"))
    shapes.append(dict(type="line", xref=f"{rx} domain", yref=ry, x0=0, x1=1, y0=0, y1=0,
                       line=dict(color="#a8a8a8", width=1, dash="dash"), layer="below"))

    lxname = "xaxis" if li == 1 else f"xaxis{li}"
    lyname = "yaxis" if li == 1 else f"yaxis{li}"
    layout_axes[lxname] = dict(domain=xdom(*LEFT_X), range=[0, p["xmax"]], anchor=ly, tickvals=p["xticks"],
                               showline=True, linecolor=AXC, linewidth=1.2, ticks="outside", ticklen=5,
                               tickcolor=AXC, showgrid=False, zeroline=False, tickfont=tickfont)
    layout_axes[lyname] = dict(domain=ydom(top, bot), type="log", range=[-1.045, 0.158], anchor=lx,
                               tickvals=MASS_TICKS, ticktext=MASS_TICK_TEXT, showline=True, linecolor=AXC,
                               linewidth=1.2, ticks="outside", ticklen=5, tickcolor=AXC, showgrid=False,
                               zeroline=False, tickfont=tickfont, ticklabelstandoff=4)
    layout_axes[f"xaxis{ri}"] = dict(domain=xdom(*RIGHT_X), range=p["rx"], anchor=ry, tickvals=p["rticks"],
                                     showline=True, mirror=True, linecolor=AXC, linewidth=1.2, ticks="outside",
                                     ticklen=5, tickcolor=AXC, showgrid=False, zeroline=False, tickfont=tickfont)
    layout_axes[f"yaxis{ri}"] = dict(domain=ydom(top, bot), range=[-3.23, 3.25], anchor=rx, side="right",
                                     tickvals=RATE_TICKS, showline=True, mirror=True, linecolor=AXC,
                                     linewidth=1.2, ticks="outside", ticklen=5, tickcolor=AXC, showgrid=False,
                                     zeroline=False, tickfont=tickfont)

    # texts
    annotations.append(dict(text=TITLES[i], x=TITLE_X / W, y=(H - (top - 8)) / H,
                            xref="paper", yref="paper", showarrow=False, xanchor="center", yanchor="middle",
                            font=dict(family=FONT, size=16, color=INK)))
    annotations.append(dict(text=LETTERS[i], x=17 / W, y=(H - (top + 20)) / H, xref="paper", yref="paper",
                            showarrow=False, xanchor="center", yanchor="middle",
                            font=dict(family=FONT, size=29, color=INK)))
    annotations.append(dict(text=f"n =  {p['n']}", x=585 / W, y=(H - (bot - 15)) / H, xref="paper",
                            yref="paper", showarrow=False, xanchor="left", yanchor="middle",
                            font=dict(family=FONT, size=12.5, color=INK)))

annotations.append(dict(text="Buoyant mass (pg)", x=36 / W, y=(H - 435) / H, xref="paper", yref="paper",
                        showarrow=False, textangle=-90, xanchor="center", yanchor="middle",
                        font=dict(family=FONT, size=16, color=INK)))
annotations.append(dict(text="Mass accumulation rate per unit mass (/h)", x=785 / W, y=(H - 435) / H,
                        xref="paper", yref="paper", showarrow=False, textangle=-90, xanchor="center",
                        yanchor="middle", font=dict(family=FONT, size=16, color=INK)))
for cx in [TITLE_X, (RIGHT_X[0] + RIGHT_X[1]) / 2]:
    annotations.append(dict(text="Time (min)", x=cx / W, y=(H - 825) / H, xref="paper", yref="paper",
                            showarrow=False, xanchor="center", yanchor="middle",
                            font=dict(family=FONT, size=17, color=INK)))

fig.update_layout(width=W, height=H, autosize=False, margin=dict(l=0, r=0, t=0, b=0),
                  paper_bgcolor="white", plot_bgcolor="white", showlegend=False,
                  shapes=shapes, annotations=annotations, font=dict(family=FONT, color=INK),
                  **layout_axes)

fig.write_html("out.html")
